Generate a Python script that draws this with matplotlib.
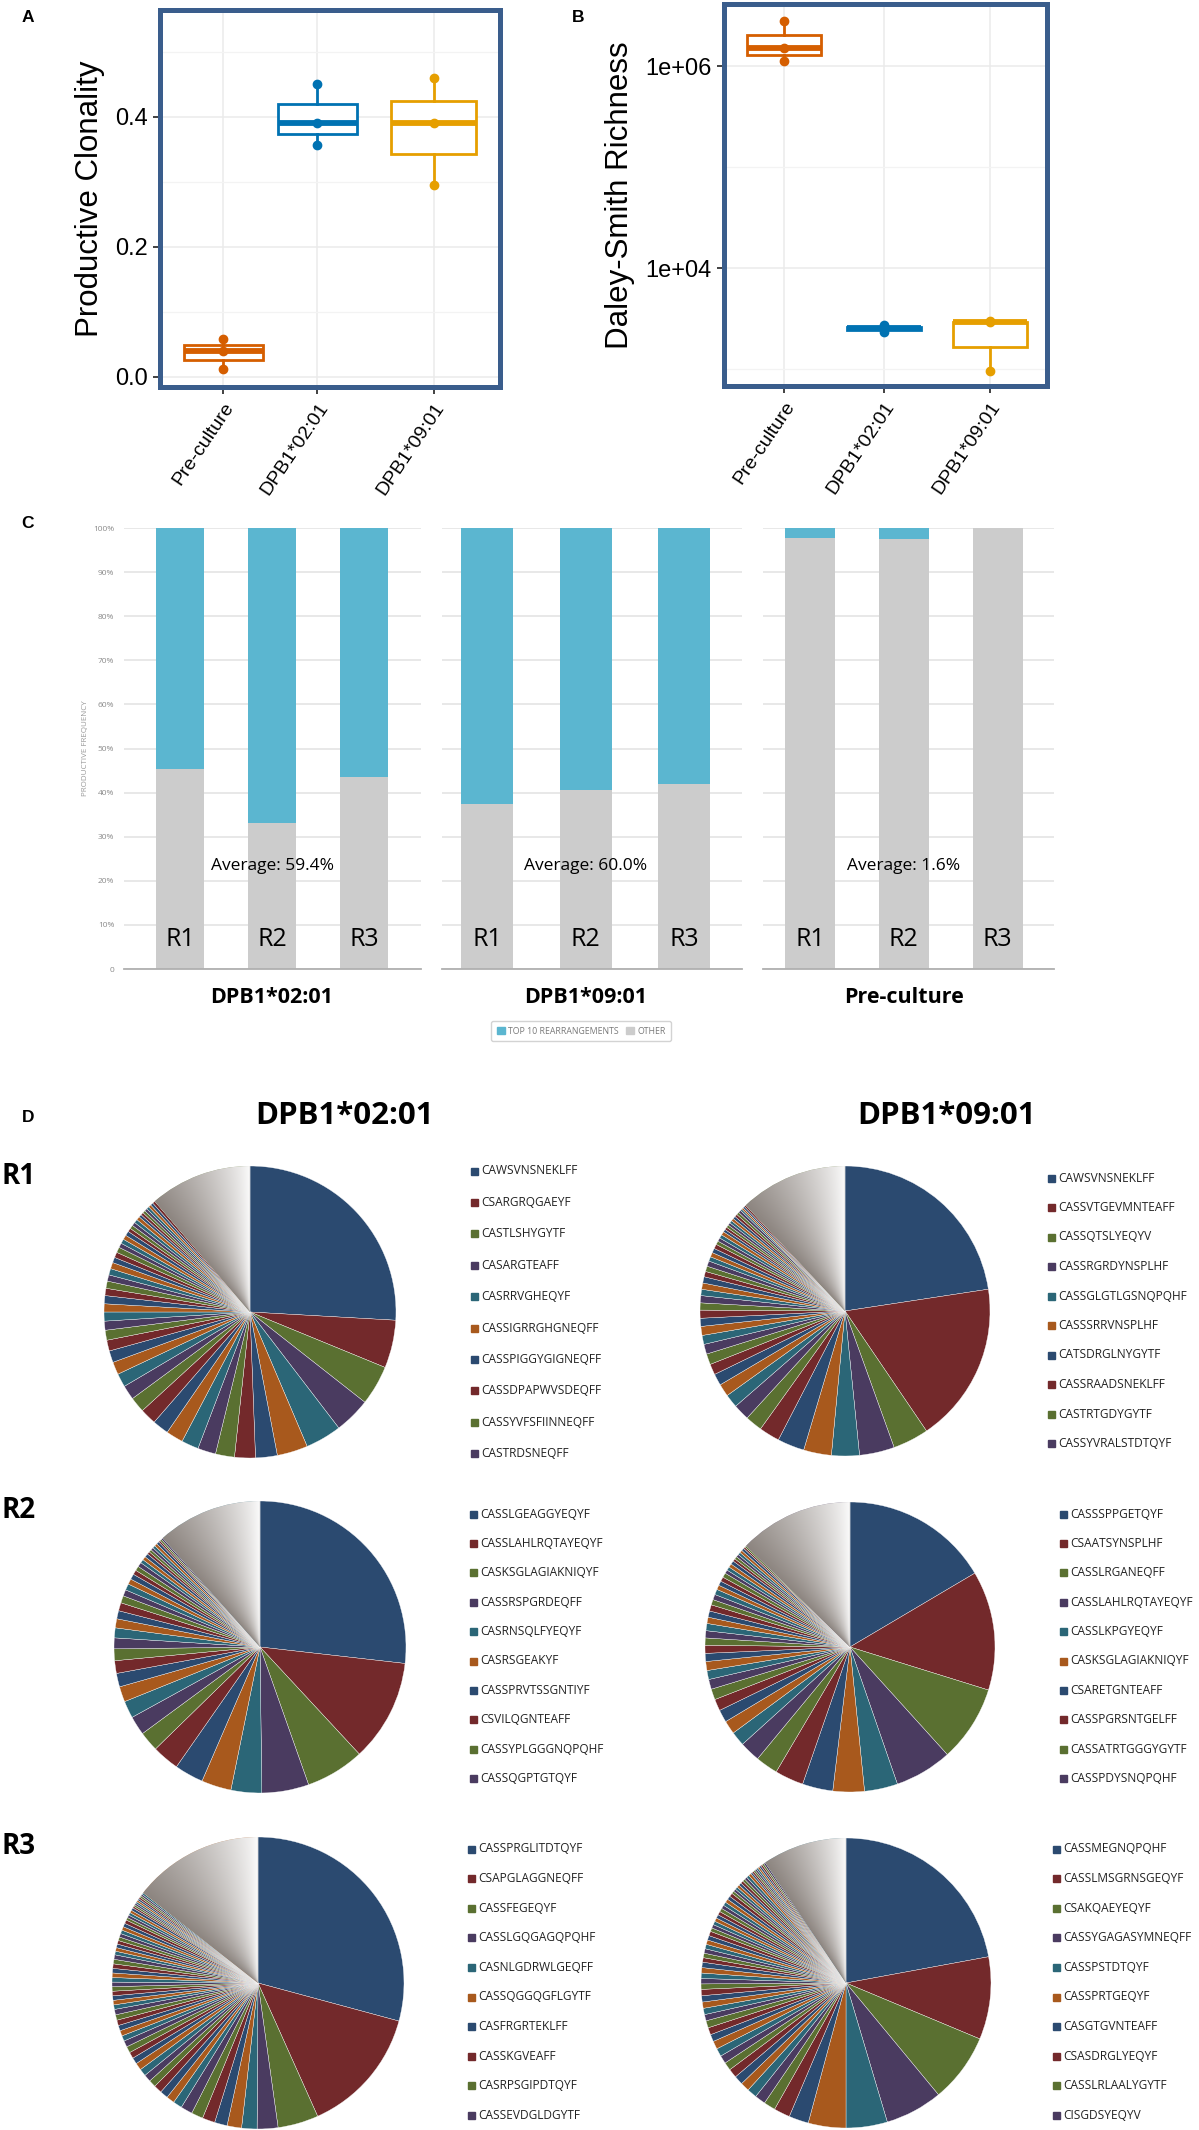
import numpy as np
import matplotlib
matplotlib.use('Agg')
import matplotlib.pyplot as plt
import matplotlib.transforms as mtransforms
from matplotlib.patches import Patch, Rectangle

plt.rcParams['font.family'] = ['Liberation Sans', 'DejaVu Sans']

W, H = 1199, 2130

# ---------------- DATA ----------------
# Panels A and B: one value per replicate
groups = ['Pre-culture', 'DPB1*02:01', 'DPB1*09:01']
group_colors = ['#D55E00', '#0072B2', '#E69F00']
clonality = [[0.012, 0.040, 0.059], [0.357, 0.390, 0.451], [0.295, 0.390, 0.460]]
richness = [[1.12e6, 1.5e6, 2.8e6], [2350, 2550, 2700], [960, 2900, 3000]]

# Panel C: productive frequency (%)
reps = ['R1', 'R2', 'R3']
facets = ['DPB1*02:01', 'DPB1*09:01', 'Pre-culture']
other_pct = [[45.3, 33.0, 43.5], [37.5, 40.6, 41.9], [97.7, 97.6, 99.9]]
top10_pct = [[54.7, 67.0, 56.5], [62.5, 59.4, 58.1], [2.3, 2.4, 0.1]]
averages = ['Average: 59.4%', 'Average: 60.0%', 'Average: 1.6%']

# Panel D: top 10 clonotypes + the next visible clones (% of repertoire)
tcr_0201_r1 = ['CAWSVNSNEKLFF', 'CSARGRQGAEYF', 'CASTLSHYGYTF', 'CASARGTEAFF', 'CASRRVGHEQYF',
               'CASSIGRRGHGNEQFF', 'CASSPIGGYGIGNEQFF', 'CASSDPAPWVSDEQFF', 'CASSYVFSFIINNEQFF', 'CASTRDSNEQFF']
freq_0201_r1 = [25.9, 5.3, 4.4, 4.0, 4.0, 3.4, 2.4, 2.3, 2.1, 2.0]
small_0201_r1 = [1.9, 1.9, 1.8, 1.8, 1.7, 1.6, 1.5, 1.4, 1.3, 1.2, 1.1, 1.0, 1.0, 0.9, 0.9, 0.8, 0.8, 0.7, 0.7, 0.7,
                 0.6, 0.6, 0.6, 0.5, 0.5, 0.5, 0.5, 0.4, 0.4, 0.4, 0.4, 0.4, 0.3, 0.3, 0.3, 0.3, 0.3, 0.3, 0.3, 0.3]

tcr_0901_r1 = ['CAWSVNSNEKLFF', 'CASSVTGEVMNTEAFF', 'CASSQTSLYEQYV', 'CASSRGRDYNSPLHF', 'CASSGLGTLGSNQPQHF',
               'CASSSRRVNSPLHF', 'CATSDRGLNYGYTF', 'CASSRAADSNEKLFF', 'CASTRTGDYGYTF', 'CASSYVRALSTDTQYF']
freq_0901_r1 = [22.6, 17.9, 4.0, 3.9, 3.1, 3.1, 3.0, 2.3, 1.9, 1.8]
small_0901_r1 = [1.5, 1.4, 1.3, 1.2, 1.2, 1.1, 1.0, 1.0, 0.9, 0.9, 0.8, 0.8, 0.7, 0.7, 0.7, 0.6, 0.6, 0.6, 0.5, 0.5,
                 0.5, 0.5, 0.4, 0.4, 0.4, 0.4, 0.3, 0.3, 0.3, 0.3, 0.3, 0.3, 0.3, 0.3, 0.3, 0.3, 0.2, 0.2, 0.2, 0.2]

tcr_0201_r2 = ['CASSLGEAGGYEQYF', 'CASSLAHLRQTAYEQYF', 'CASKSGLAGIAKNIQYF', 'CASSRSPGRDEQFF', 'CASRNSQLFYEQYF',
               'CASRSGEAKYF', 'CASSPRVTSSGNTIYF', 'CSVILQGNTEAFF', 'CASSYPLGGGNQPQHF', 'CASSQGPTGTQYF']
freq_0201_r2 = [26.8, 11.3, 6.5, 5.2, 3.4, 3.3, 3.2, 3.0, 2.2, 2.1]
small_0201_r2 = [1.9, 1.7, 1.5, 1.4, 1.3, 1.2, 1.1, 1.0, 0.9, 0.9, 0.8, 0.7, 0.7, 0.6, 0.6, 0.5, 0.5, 0.5, 0.4, 0.4,
                 0.4, 0.3, 0.3, 0.3, 0.3, 0.3, 0.3, 0.2, 0.2, 0.2]

tcr_0901_r2 = ['CASSSPPGETQYF', 'CSAATSYNSPLHF', 'CASSLRGANEQFF', 'CASSLAHLRQTAYEQYF', 'CASSLKPGYEQYF',
               'CASKSGLAGIAKNIQYF', 'CSARETGNTEAFF', 'CASSPGRSNTGELFF', 'CASSATRTGGGYGYTF', 'CASSPDYSNQPQHF']
freq_0901_r2 = [16.5, 13.3, 8.5, 6.4, 3.7, 3.5, 3.4, 3.2, 2.5, 2.3]
small_0901_r2 = [1.6, 1.5, 1.4, 1.3, 1.2, 1.1, 1.0, 1.0, 0.9, 0.9, 0.8, 0.8, 0.8, 0.7, 0.7, 0.7, 0.6, 0.6, 0.6, 0.5,
                 0.5, 0.5, 0.5, 0.4, 0.4, 0.4, 0.4, 0.3, 0.3, 0.3, 0.3, 0.3, 0.3, 0.2, 0.2]

tcr_0201_r3 = ['CASSPRGLITDTQYF', 'CSAPGLAGGNEQFF', 'CASSFEGEQYF', 'CASSLGQGAGQPQHF', 'CASNLGDRWLGEQFF',
               'CASSQGGQGFLGYTF', 'CASFRGRTEKLFF', 'CASSKGVEAFF', 'CASRPSGIPDTQYF', 'CASSEVDGLDGYTF']
freq_0201_r3 = [29.2, 14.1, 4.5, 2.3, 1.7, 1.6, 1.4, 1.4, 1.3, 1.3]
small_0201_r3 = [1.0, 0.9, 0.9, 0.9, 0.8, 0.8, 0.8, 0.8, 0.7, 0.7, 0.7, 0.7, 0.6, 0.6, 0.6, 0.6, 0.6, 0.6, 0.5, 0.5,
                 0.5, 0.5, 0.5, 0.5, 0.5, 0.5, 0.5, 0.5, 0.5, 0.5, 0.4, 0.4, 0.4, 0.4, 0.4, 0.4, 0.4, 0.4, 0.4, 0.4,
                 0.3, 0.3, 0.3, 0.3, 0.3, 0.2, 0.2, 0.2, 0.2, 0.2, 0.2, 0.2, 0.2, 0.2, 0.2]

tcr_0901_r3 = ['CASSMEGNQPQHF', 'CASSLMSGRNSGEQYF', 'CSAKQAEYEQYF', 'CASSYGAGASYMNEQFF', 'CASSPSTDTQYF',
               'CASSPRTGEQYF', 'CASGTGVNTEAFF', 'CSASDRGLYEQYF', 'CASSLRLAALYGYTF', 'CISGDSYEQYV']
freq_0901_r3 = [22.1, 9.2, 7.7, 6.4, 4.6, 4.2, 2.2, 1.8, 1.3, 1.2]
small_0901_r3 = [1.1, 1.0, 1.0, 1.0, 0.9, 0.9, 0.9, 0.9, 0.8, 0.8, 0.8, 0.7, 0.7, 0.7, 0.7, 0.7, 0.6, 0.6, 0.6, 0.6,
                 0.6, 0.5, 0.5, 0.5, 0.5, 0.5, 0.5, 0.5, 0.4, 0.4, 0.4, 0.4, 0.4, 0.4, 0.4, 0.4, 0.4, 0.4, 0.4, 0.4,
                 0.3, 0.3, 0.3, 0.3, 0.3, 0.3, 0.3, 0.3, 0.3, 0.3, 0.2, 0.2, 0.2, 0.2, 0.2, 0.2, 0.2, 0.2, 0.2, 0.2]

# ---------------- STYLE ----------------
frame_col = '#3A5D8C'
bar_blue = '#5BB6D0'
bar_gray = '#CCCCCC'
slice_colors = ['#2B4A70', '#73292B', '#5A7031', '#4A3B60', '#2B6677', '#A8591D']
CFONT = ['Open Sans', 'DejaVu Sans']


def rect(x0, y0, x1, y1):
    '''pixel box (top-left origin) -> figure fraction rect'''
    return [x0 / W, 1 - y1 / H, (x1 - x0) / W, (y1 - y0) / H]


def ftext(x, y, s, **kw):
    fig.text(x / W, 1 - y / H, s, **kw)


fig = plt.figure(figsize=(W / 100, H / 100), dpi=100)
shift_left = mtransforms.ScaledTranslation(-16 / 100, 0, fig.dpi_scale_trans)


# ---------------- A & B: box plots ----------------
def box_panel(ax, data, pos, widths, xlim, ylim):
    ax.set_xlim(*xlim)
    ax.set_ylim(*ylim)
    ax.grid(which='major', color='#EBEBEB', lw=1.1)
    ax.grid(which='minor', axis='y', color='#F3F3F3', lw=0.9)
    ax.set_axisbelow(True)
    bp = ax.boxplot(data, positions=pos, widths=widths, whis=(0, 100), patch_artist=True,
                    showfliers=False, showcaps=False, manage_ticks=False)
    for k, col in enumerate(group_colors):
        bp['boxes'][k].set(facecolor='white', edgecolor=col, linewidth=2, zorder=3)
        bp['medians'][k].set(color=col, linewidth=4.2, solid_capstyle='butt', zorder=4)
        for wl in bp['whiskers'][2 * k:2 * k + 2]:
            wl.set(color=col, linewidth=2, zorder=3)
        ax.plot([pos[k]] * len(data[k]), data[k], 'o', color=col, ms=6, zorder=5)
    ax.set_xticks(pos)
    ax.set_xticklabels(groups, rotation=56, ha='right', va='top', rotation_mode='anchor', fontsize=14)
    for t in ax.get_xticklabels():
        t.set_transform(t.get_transform() + shift_left)
    for sp in ax.spines.values():
        sp.set_color(frame_col)
        sp.set_linewidth(3.6)
    ax.tick_params(axis='both', which='major', length=5, width=1.3, color='#333333', pad=4)
    ax.tick_params(axis='y', labelsize=17)
    ax.tick_params(which='minor', length=0)


axA = fig.add_axes(rect(160, 10, 500, 387))
box_panel(axA, clonality, [1, 2, 3.234], [0.84, 0.84, 0.90], (0.33, 3.94), (-0.0154, 0.5646))
axA.set_yticks([0.0, 0.2, 0.4])
axA.set_yticklabels(['0.0', '0.2', '0.4'])
axA.set_yticks([0.1, 0.3, 0.5], minor=True)
axA.set_ylabel('Productive Clonality', fontsize=22.5, labelpad=7)

axB = fig.add_axes(rect(724, 4, 1047, 386))
box_panel(axB, [list(np.log10(v)) for v in richness], [1, 2, 3.06], [0.74, 0.74, 0.74],
          (0.4, 3.63), (2.832, 6.614))
axB.set_yticks([4, 6])
axB.set_yticklabels(['1e+04', '1e+06'])
axB.set_yticks([3, 5], minor=True)
axB.set_ylabel('Daley-Smith Richness', fontsize=22.5, labelpad=7)

# ---------------- C: stacked bars ----------------
facet_px = [(124, 421), (442, 742), (763, 1054)]
facet_xlim = [(-0.61, 2.62), (-0.46, 2.59), (-0.5, 2.6)]
for i, (x0, x1) in enumerate(facet_px):
    ax = fig.add_axes(rect(x0, 528, x1, 969))
    xs = np.arange(len(reps))
    ax.bar(xs, other_pct[i], width=0.53, color=bar_gray, zorder=2)
    ax.bar(xs, top10_pct[i], bottom=other_pct[i], width=0.53, color=bar_blue, zorder=2)
    ax.set_xlim(*facet_xlim[i])
    ax.set_ylim(0, 100)
    ax.set_yticks(range(0, 101, 10))
    ax.yaxis.grid(True, color='#E6E6E6', lw=1.3)
    ax.set_axisbelow(True)
    ax.set_xticks([])
    for s in ['top', 'right', 'left']:
        ax.spines[s].set_visible(False)
    ax.spines['bottom'].set_color('#B0B0B0')
    ax.spines['bottom'].set_linewidth(1.3)
    if i == 0:
        ax.set_yticklabels(['0'] + [f'{v}%' for v in range(10, 101, 10)])
        ax.tick_params(axis='y', length=0, labelsize=6, labelcolor='#8A8A8A', pad=7)
        for t in ax.get_yticklabels():
            t.set_family(CFONT)
        ax.set_ylabel('PRODUCTIVE FREQUENCY', fontsize=5.8, color='#9A9A9A', family=CFONT, labelpad=3)
    else:
        ax.tick_params(axis='y', length=0, labelleft=False)
    ax.text(1, 23.4, averages[i], ha='center', va='center', fontsize=12.5, family=CFONT, zorder=4)
    for j, r in enumerate(reps):
        ax.text(j, 6.6, r, ha='center', va='center', fontsize=18, family=CFONT, zorder=4)
    ax.text(1, -6.35, facets[i], ha='center', va='center', fontsize=15.5, fontweight='bold',
            family=CFONT, clip_on=False)

leg = fig.legend(handles=[Patch(color=bar_blue, label='TOP 10 REARRANGEMENTS'),
                          Patch(color=bar_gray, label='OTHER')],
                 loc='center', bbox_to_anchor=(581 / W, 1 - 1031 / H), ncol=2,
                 frameon=True, fancybox=True, edgecolor='#C8C8C8', handlelength=0.9, handleheight=1.0,
                 columnspacing=0.8, handletextpad=0.4, borderpad=0.6, labelcolor='#7A7A7A',
                 prop={'family': CFONT, 'size': 6.3})

# ---------------- D: pies ----------------
gray_start = np.array([0.55, 0.52, 0.50])


def draw_pie(cx, cy, r, top, small, names, lx, ly, dy):
    ax = fig.add_axes(rect(cx - r, cy - r, cx + r, cy + r))
    vals = top + small + [100 - sum(top) - sum(small)]
    cols = [slice_colors[k % 6] for k in range(len(vals))]
    wedges, _ = ax.pie(vals, colors=cols, startangle=90, counterclock=False, radius=1,
                       wedgeprops=dict(linewidth=0.25, edgecolor='white'))
    # the long tail of tiny clones shows up as a grey-to-white sweep
    tail = wedges[-1]
    lo, hi = tail.theta1, tail.theta2
    g = np.linspace(-1, 1, 500)
    X, Y = np.meshgrid(g, g)
    phi = np.degrees(np.arctan2(Y, X))
    t = np.clip(((phi - lo) % 360) / (hi - lo), 0, 1) ** 0.8
    rgb = (1 - t[..., None]) * np.array([0.99, 0.99, 0.99]) + t[..., None] * gray_start
    im = ax.imshow(rgb, extent=(-1, 1, -1, 1), origin='lower', interpolation='bilinear', zorder=3)
    im.set_clip_path(tail)
    ax.set_xlim(-1.0, 1.0)
    ax.set_ylim(-1.0, 1.0)
    ax.axis('off')
    for k, name in enumerate(names):
        yy = ly + k * dy
        fig.add_artist(Rectangle((lx / W, 1 - (yy + 3.5) / H), 7 / W, 7 / H,
                                 transform=fig.transFigure, color=slice_colors[k % 6]))
        ftext(lx + 10, yy, name, fontsize=8.6, family=CFONT, color='#222222', va='center', ha='left')


draw_pie(250, 1312, 146, freq_0201_r1, small_0201_r1, tcr_0201_r1, 471, 1171, 31.4)
draw_pie(845, 1311, 145, freq_0901_r1, small_0901_r1, tcr_0901_r1, 1048, 1178, 29.5)
draw_pie(260, 1647, 146, freq_0201_r2, small_0201_r2, tcr_0201_r2, 470, 1514, 29.4)
draw_pie(850, 1647, 145, freq_0901_r2, small_0901_r2, tcr_0901_r2, 1060, 1514, 29.4)
draw_pie(258, 1983, 146, freq_0201_r3, small_0201_r3, tcr_0201_r3, 468, 1849, 29.6)
draw_pie(846, 1983, 145, freq_0901_r3, small_0901_r3, tcr_0901_r3, 1053, 1849, 29.6)

ftext(344, 1116, 'DPB1*02:01', fontsize=22.5, fontweight='bold', family=CFONT, ha='center', va='center')
ftext(946, 1116, 'DPB1*09:01', fontsize=22.5, fontweight='bold', family=CFONT, ha='center', va='center')
for lab, y in zip(reps, [1177, 1510, 1847]):
    ftext(2, y, lab, fontsize=20, fontweight='bold', family=CFONT, ha='left', va='center')

# panel letters
for lab, x, y in [('A', 28, 18), ('B', 578, 18), ('C', 28, 523), ('D', 28, 1118)]:
    ftext(x, y, lab, fontsize=12.5, fontweight='bold', ha='center', va='center')

fig.savefig('out.png', dpi=100, facecolor='white')
